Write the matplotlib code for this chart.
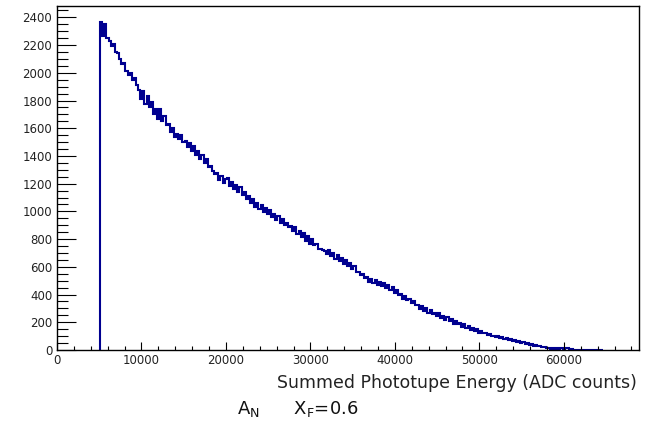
import numpy as np
import matplotlib
matplotlib.use("Agg")
import matplotlib.pyplot as plt
from matplotlib.ticker import MultipleLocator

# -----------------------------------------
# histogram contents (250 ADC bins from 5100)
# -----------------------------------------
bin_start = 5100
bin_width = 250

counts = [
    2368, 2262, 2355, 2248, 2228, 2195, 2210, 2150, 2142, 2098,
    2061, 2070, 2012, 1985, 2001, 1948, 1962, 1910, 1875, 1812,
    1868, 1776, 1835, 1750, 1790, 1706, 1742, 1668, 1738, 1652,
    1690, 1620, 1628, 1575, 1605, 1540, 1562, 1522, 1548, 1500,
    1510, 1462, 1495, 1438, 1470, 1405, 1436, 1375, 1410, 1348,
    1380, 1322, 1330, 1290, 1268, 1275, 1230, 1258, 1205, 1236,
    1244, 1182, 1212, 1162, 1190, 1140, 1176, 1118, 1140, 1090,
    1112, 1062, 1090, 1035, 1062, 1015, 1046, 995, 1022, 978,
    1008, 958, 982, 940, 970, 918, 948, 905, 915, 885,
    894, 860, 888, 838, 860, 812, 846, 790, 820, 765,
    798, 756, 768, 730, 732, 720, 712, 690, 722, 678,
    700, 660, 682, 642, 666, 624, 648, 604, 630, 588,
    606, 564, 566, 538, 548, 520, 524, 494, 512, 482,
    504, 470, 494, 462, 480, 450, 470, 432, 454, 414,
    434, 394, 406, 370, 388, 358, 370, 340, 354, 322,
    326, 296, 316, 282, 300, 266, 288, 258, 270, 244,
    266, 232, 244, 216, 238, 206, 226, 190, 210, 184,
    194, 168, 188, 158, 176, 144, 162, 138, 150, 126,
    138, 124, 120, 106, 114, 100, 104, 92, 98, 86,
    92, 80, 86, 72, 78, 64, 70, 58, 62, 50,
    56, 44, 50, 38, 44, 32, 38, 26, 30, 22,
    24, 14, 18, 10, 14, 7, 11, 5, 12, 6,
    12, 15, 5, 8, 3, 2, 0, 0, 0, 0,
    0, 0, 0, 0, 0, 0, 2, 0,
]

edges = bin_start + bin_width * np.arange(len(counts) + 1)

x_max = 68900
y_max = 2482

# -----------------------------------------
# figure
# -----------------------------------------
plt.rcParams["font.family"] = "DejaVu Sans"

fig = plt.figure(figsize=(6.47, 4.42), dpi=100)
ax = fig.add_axes([57 / 647, 92 / 442, 582 / 647, 344 / 442])

ax.stairs(counts, edges, baseline=0, color="#000090", linewidth=1.5)

ax.set_xlim(0, x_max)
ax.set_ylim(0, y_max)

ax.xaxis.set_major_locator(MultipleLocator(10000))
ax.xaxis.set_minor_locator(MultipleLocator(2000))
ax.yaxis.set_major_locator(MultipleLocator(200))
ax.yaxis.set_minor_locator(MultipleLocator(50))

ax.tick_params(axis="both", which="both", direction="in",
               top=False, right=False, width=0.8, colors="black",
               labelcolor="#222222", labelsize=8.5)
ax.tick_params(axis="x", which="major", length=6, pad=3)
ax.tick_params(axis="x", which="minor", length=3.2)
ax.tick_params(axis="y", which="major", length=13.5, pad=3.5)
ax.tick_params(axis="y", which="minor", length=8)

for spine in ax.spines.values():
    spine.set_linewidth(1.0)

fig.text(637 / 647, 1 - 388 / 442, "Summed Phototupe Energy (ADC counts)",
         ha="right", va="baseline", fontsize=12.5, color="#222222")

fig.text(237 / 647, 1 - 414 / 442,
         r"$\mathregular{A_N}$      $\mathregular{X_F}$=0.6",
         ha="left", va="baseline", fontsize=13, color="#111111")

fig.savefig("out.png", dpi=100)
